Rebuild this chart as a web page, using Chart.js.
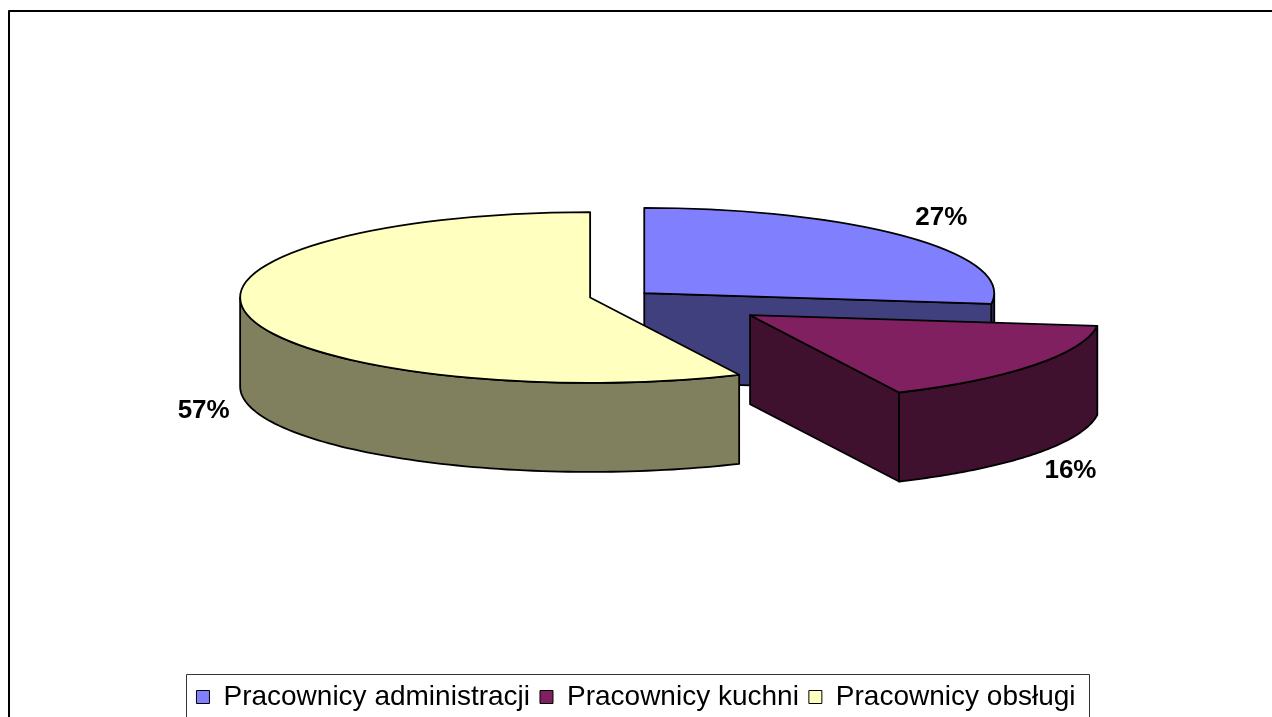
<!DOCTYPE html>
<html>
<head>
<meta charset="utf-8">
<script src="https://cdn.jsdelivr.net/npm/chart.js@4.4.0/dist/chart.umd.min.js"></script>
<style>
  html, body { margin: 0; padding: 0; background: #fff; overflow: hidden; }
</style>
</head>
<body>
<canvas id="chart" width="1272" height="717"></canvas>
<script>
// data
var kategorie = ['Pracownicy administracji', 'Pracownicy kuchni', 'Pracownicy obsługi'];
var udzial = [27, 16, 57];

// look
var kolorGora = ['#8080FF', '#802060', '#FFFFC0'];
var kolorBok = ['#40407F', '#40102F', '#80805F'];
var wysuniecie = [11, 141, 47];   // explode distance per slice
var TILT = 0.244;                  // vertical squash of the pie
var DEPTH = 89;                    // thickness of the 3d pie
var FONT = 'Liberation Sans, Arial, sans-serif';


function punkt(s, ang, down) {
  var a = s.arc;
  return {
    x: a.x + s.dx + a.outerRadius * Math.cos(ang),
    y: a.y + s.dy + a.outerRadius * Math.sin(ang) * TILT + (down || 0)
  };
}

function boki(ctx, s) {
  var a = s.arc;
  var a1 = a.startAngle, a2 = a.endAngle;
  var cx = a.x + s.dx, cy = a.y + s.dy;
  ctx.fillStyle = kolorBok[s.i];
  ctx.strokeStyle = '#000';
  ctx.lineWidth = 1.8;
  ctx.lineJoin = 'round';

  // flat walls along the cut edges
  [[a2, Math.cos(a2) > 0.001], [a1, Math.cos(a1) < -0.001]].forEach(function (e) {
    if (!e[1]) return;
    var p = punkt(s, e[0]);
    ctx.beginPath();
    ctx.moveTo(cx, cy);
    ctx.lineTo(p.x, p.y);
    ctx.lineTo(p.x, p.y + DEPTH);
    ctx.lineTo(cx, cy + DEPTH);
    ctx.closePath();
    ctx.fill();
    ctx.stroke();
  });

  // curved outer wall, only the part facing us
  for (var k = -1; k <= 1; k++) {
    var lo = Math.max(a1, 2 * Math.PI * k);
    var hi = Math.min(a2, 2 * Math.PI * k + Math.PI);
    if (hi <= lo) continue;
    var n = 80, t, p;
    ctx.beginPath();
    for (var j = 0; j <= n; j++) {
      t = lo + (hi - lo) * j / n;
      p = punkt(s, t);
      if (j === 0) ctx.moveTo(p.x, p.y); else ctx.lineTo(p.x, p.y);
    }
    for (j = n; j >= 0; j--) {
      t = lo + (hi - lo) * j / n;
      p = punkt(s, t, DEPTH);
      ctx.lineTo(p.x, p.y);
    }
    ctx.closePath();
    ctx.fill();
    ctx.stroke();
  }
}

function gora(ctx, s) {
  var a = s.arc;
  ctx.save();
  ctx.translate(s.dx, s.dy);
  ctx.translate(a.x, a.y);
  ctx.scale(1, TILT);
  ctx.translate(-a.x, -a.y);
  a.draw(ctx);
  ctx.restore();

  var cx = a.x + s.dx, cy = a.y + s.dy;
  ctx.beginPath();
  ctx.moveTo(cx, cy);
  ctx.ellipse(cx, cy, a.outerRadius, a.outerRadius * TILT, 0, a.startAngle, a.endAngle);
  ctx.closePath();
  ctx.strokeStyle = '#000';
  ctx.lineWidth = 1.8;
  ctx.lineJoin = 'round';
  ctx.stroke();
}

function etykieta(ctx, s) {
  var sin = Math.sin(s.mid), cos = Math.cos(s.mid);
  var p = punkt(s, s.mid, sin > 0 ? DEPTH : 0);
  var total = udzial.reduce(function (x, y) { return x + y; }, 0);
  ctx.fillStyle = '#000';
  ctx.font = 'bold 26px ' + FONT;
  ctx.textAlign = 'center';
  ctx.textBaseline = 'middle';
  ctx.fillText(Math.round(udzial[s.i] / total * 100) + '%', p.x + cos * 46, p.y + sin * 28);
}

var pie3d = {
  id: 'pie3d',
  beforeDatasetsDraw: function (chart) {
    var ctx = chart.ctx;
    var slices = chart.getDatasetMeta(0).data.map(function (arc, i) {
      var mid = (arc.startAngle + arc.endAngle) / 2;
      return {
        arc: arc, i: i, mid: mid,
        dx: Math.cos(mid) * wysuniecie[i],
        dy: Math.sin(mid) * wysuniecie[i] * TILT
      };
    });
    slices.slice().sort(function (a, b) { return a.dy - b.dy; })
      .forEach(function (s) { boki(ctx, s); });
    slices.forEach(function (s) { gora(ctx, s); });
    slices.forEach(function (s) { etykieta(ctx, s); });
    return false;
  },
  afterDraw: function (chart) {
    var ctx = chart.ctx;
    // outer frame
    ctx.save();
    ctx.strokeStyle = '#000';
    ctx.lineWidth = 2;
    ctx.strokeRect(9, 11, 1400, 800);
    // legend frame
    var hb = chart.legend.legendHitBoxes;
    var last = hb[hb.length - 1];
    var left = hb[0].left - 10;
    var right = last.left + last.width + 14;
    ctx.strokeStyle = '#333';
    ctx.lineWidth = 1;
    ctx.strokeRect(Math.round(left) + 0.5, Math.round(hb[0].top - 9) + 0.5, Math.round(right - left), 100);
    ctx.restore();
  }
};

var chart = new Chart('chart', {
  type: 'pie',
  data: {
    labels: kategorie,
    datasets: [{
      data: udzial,
      backgroundColor: kolorGora,
      borderWidth: 0,
      radius: 350
    }]
  },
  options: {
    responsive: false,
    animation: false,
    events: [],
    layout: { padding: { top: 0, bottom: -4, left: 0, right: 0 } },
    plugins: {
      tooltip: { enabled: false },
      legend: {
        position: 'bottom',
        // empty legend title used only as a spacer above the legend row
        title: { display: true, text: '', font: { size: 1, lineHeight: 1 }, padding: { top: 82, bottom: 0 } },
        labels: {
          boxWidth: 13,
          boxHeight: 13,
          padding: 10,
          color: '#000',
          font: { family: FONT, size: 28 },
          generateLabels: function (c) {
            var items = Chart.overrides.doughnut.plugins.legend.labels.generateLabels(c);
            items.forEach(function (it) { it.lineWidth = 1; it.strokeStyle = '#000'; });
            return items;
          }
        }
      }
    }
  },
  plugins: [pie3d]
});
</script>
</body>
</html>
